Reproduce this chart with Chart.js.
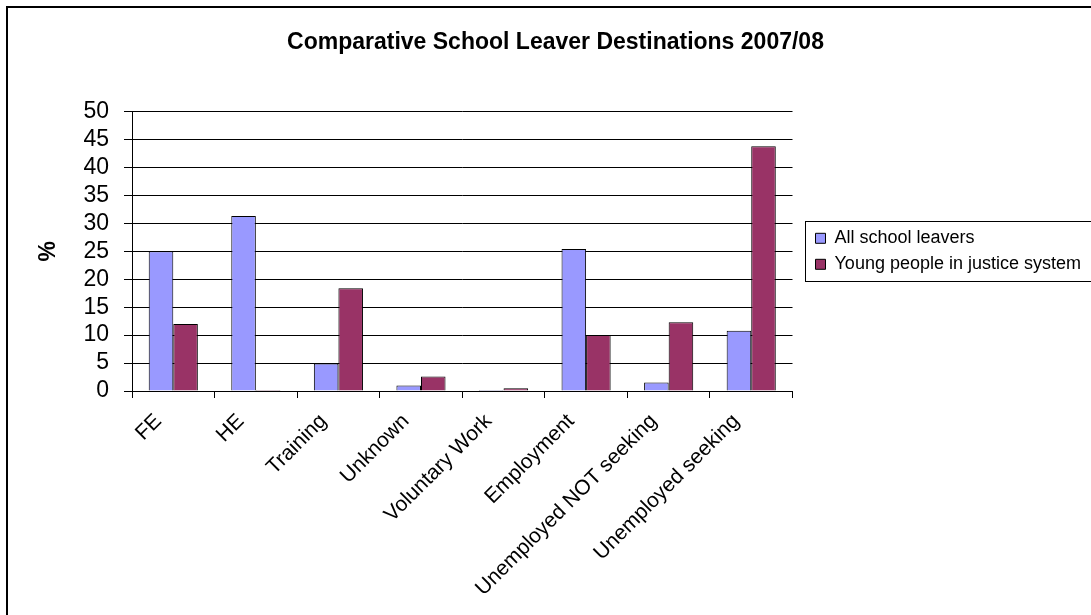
<!DOCTYPE html>
<html>
<head>
<meta charset="utf-8">
<script src="https://cdn.jsdelivr.net/npm/chart.js@4"></script>
<style>
  html, body { margin: 0; padding: 0; background: #fff; overflow: hidden; }
  #wrap { position: absolute; left: 0; top: 0; width: 1091px; height: 615px; }
</style>
</head>
<body>
<div id="wrap"><canvas id="c" width="1091" height="615"></canvas></div>
<script>
const categories = ["FE", "HE", "Training", "Unknown", "Voluntary Work", "Employment", "Unemployed NOT seeking", "Unemployed seeking"];
const allLeavers = [25.0, 31.3, 4.9, 1.0, 0.2, 25.4, 1.5, 10.8];
const justiceYoung = [12.0, 0.2, 18.4, 2.6, 0.5, 10.0, 12.3, 43.8];
const seriesNames = ["All school leavers", "Young people in justice system"];
const yTicks = [0, 5, 10, 15, 20, 25, 30, 35, 40, 45, 50];

Chart.defaults.font.family = "'Liberation Sans', Arial, sans-serif";
Chart.defaults.color = "#000";

const framePlugin = {
  id: 'frame',
  afterInit(chart) {
    const lg = chart.legend;
    if (lg && !lg._wideFix) {
      const orig = lg.update.bind(lg);
      lg.update = function (maxWidth, maxHeight, margins) {
        return orig(Math.max(maxWidth, 400), maxHeight, margins);
      };
      lg._wideFix = true;
    }
  },
  beforeDraw(chart) {
    const ctx = chart.ctx;
    ctx.save();
    ctx.fillStyle = '#fff';
    ctx.fillRect(0, 0, chart.width, chart.height);
    ctx.strokeStyle = '#000';
    ctx.lineWidth = 2;
    ctx.beginPath();
    ctx.moveTo(7, chart.height + 5);
    ctx.lineTo(7, 7);
    ctx.lineTo(chart.width + 5, 7);
    ctx.stroke();
    ctx.restore();
  },
  afterDraw(chart) {
    const lg = chart.legend;
    if (!lg || !lg.legendHitBoxes || !lg.legendHitBoxes.length) return;
    const hb = lg.legendHitBoxes;
    const top = hb[0].top - 8;
    const bottom = hb[hb.length - 1].top + hb[hb.length - 1].height + 8;
    const ctx = chart.ctx;
    ctx.save();
    ctx.strokeStyle = '#000';
    ctx.lineWidth = 1;
    ctx.strokeRect(Math.round(lg.left) - 2.5, Math.round(top) + 0.5, chart.width, Math.round(bottom - top));
    ctx.restore();
  }
};

new Chart(document.getElementById('c'), {
  type: 'bar',
  data: {
    labels: categories,
    datasets: [
      { label: seriesNames[0], data: allLeavers, backgroundColor: '#9999FF', borderColor: '#000', borderWidth: 1 },
      { label: seriesNames[1], data: justiceYoung, backgroundColor: '#993366', borderColor: '#000', borderWidth: 1 }
    ]
  },
  options: {
    responsive: false,
    animation: false,
    devicePixelRatio: 1,
    categoryPercentage: 0.595,
    barPercentage: 1.0,
    layout: { padding: { left: 20, right: 0, top: 0, bottom: 0 } },
    plugins: {
      title: {
        display: true,
        text: 'Comparative School Leaver Destinations 2007/08',
        font: { size: 23, weight: 'bold' },
        color: '#000',
        padding: { top: 29, bottom: 55 }
      },
      legend: {
        display: true,
        position: 'right',
        fullSize: false,
        align: 'center',
        labels: {
          font: { size: 18 },
          color: '#000',
          boxWidth: 10,
          boxHeight: 10,
          padding: 8
        }
      },
      tooltip: { enabled: false }
    },
    scales: {
      x: {
        type: 'category',
        offset: true,
        grid: { display: true, drawOnChartArea: false, offset: true, color: '#000', tickLength: 7 },
        border: { display: true, color: '#000' },
        ticks: {
          font: { size: 21 },
          color: '#000',
          minRotation: 45,
          maxRotation: 45,
          autoSkip: false,
          labelOffset: -15,
          padding: 11
        },
        afterFit(s) { s.height = 224; }
      },
      y: {
        type: 'linear',
        position: 'left',
        min: 0,
        max: 50,
        afterBuildTicks(s) { s.ticks = yTicks.map(v => ({ value: v })); },
        grid: { display: true, color: '#000', tickLength: 8 },
        border: { display: true, color: '#000' },
        ticks: { font: { size: 23 }, color: '#000', padding: 15, autoSkip: false },
        title: { display: true, text: '%', font: { size: 23, weight: 'bold' }, color: '#000', padding: { top: 15, bottom: 0 } },
        afterFit(s) { s.width = 112; }
      },
      spacer: {
        type: 'linear',
        position: 'right',
        display: true,
        grid: { display: false },
        border: { display: false },
        ticks: { display: false },
        afterFit(s) { s.width = 15; }
      }
    }
  },
  plugins: [framePlugin]
});
</script>
</body>
</html>
